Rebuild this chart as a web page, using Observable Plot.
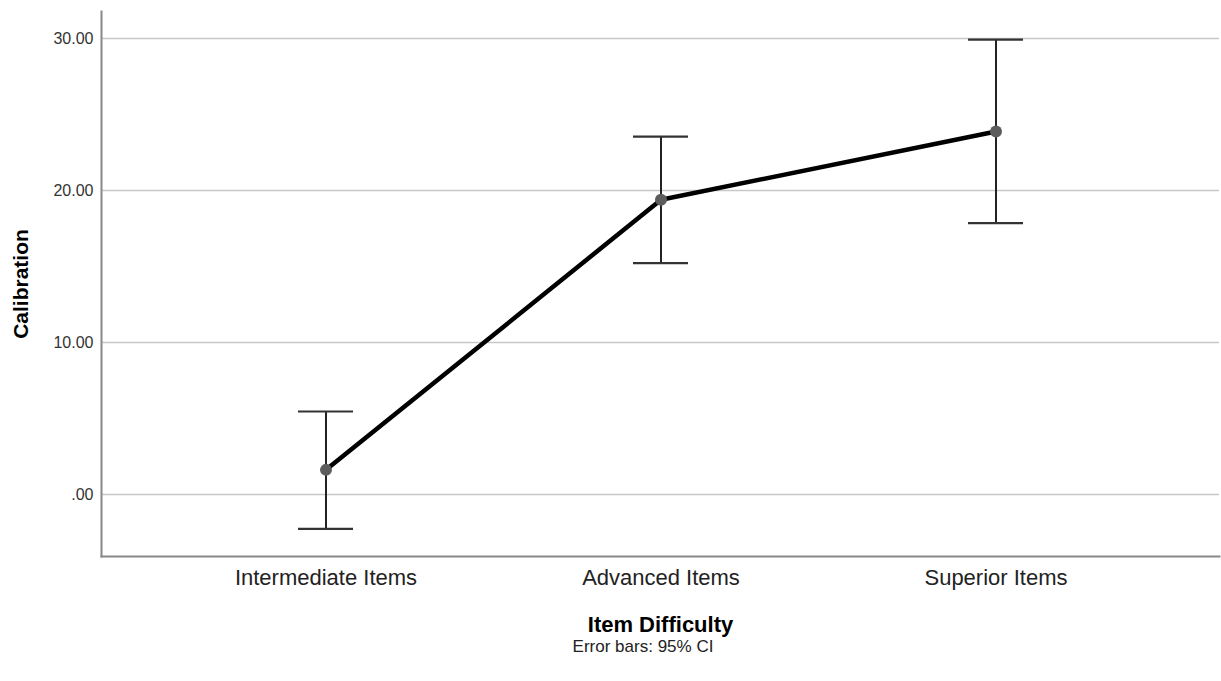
<!DOCTYPE html>
<html>
<head>
<meta charset="utf-8">
<script src="https://cdn.jsdelivr.net/npm/d3@7"></script>
<script src="https://cdn.jsdelivr.net/npm/@observablehq/plot@0.6"></script>
<style>
  html, body { margin: 0; padding: 0; background: #fff; }
  #wrap { position: relative; width: 1221px; height: 681px; font-family: "Liberation Sans", Arial, sans-serif; }
  #caption { position: absolute; left: 643px; top: 638px; transform: translateX(-50%); font-size: 17px; line-height: 17px; color: #222; white-space: nowrap; }
</style>
</head>
<body>
<div id="wrap"><div id="chart"></div><div id="caption">Error bars: 95% CI</div></div>
<script>
const categories = ["Intermediate Items", "Advanced Items", "Superior Items"];
const means = [1.62, 19.39, 23.88];
const lower = [-2.26, 15.22, 17.85];
const upper = [5.46, 23.55, 29.93];
const yTicks = [0, 10, 20, 30];
const xLabel = "Item Difficulty";
const yLabel = "Calibration";

const data = categories.map((c, i) => ({cat: c, mean: means[i], lo: lower[i], hi: upper[i]}));
const fmt = d => d === 0 ? ".00" : d.toFixed(2);

const plot = Plot.plot({
  width: 1221,
  height: 640,
  marginLeft: 101,
  marginRight: 2,
  marginTop: 11,
  marginBottom: 84,
  style: {fontFamily: "'Liberation Sans', Arial, sans-serif", background: "#fff"},
  x: {type: "band", domain: categories, paddingInner: 0.836, paddingOuter: 0.584},
  y: {domain: [-4.08, 31.78]},
  marks: [
    Plot.gridY(yTicks, {stroke: "#c8c8c8", strokeOpacity: 1, strokeWidth: 1.5}),
    Plot.frame({anchor: "left", stroke: "#888", strokeWidth: 2}),
    Plot.frame({anchor: "bottom", stroke: "#888", strokeWidth: 2}),
    Plot.axisY(yTicks, {tickSize: 0, tickPadding: 8, tickFormat: fmt, fontSize: 16, fill: "#333",
      label: yLabel, labelAnchor: "center", labelOffset: 88, labelArrow: "none"}),
    Plot.axisX({tickSize: 0, tickPadding: 13, fontSize: 22, fill: "#222",
      label: xLabel, labelAnchor: "center", labelOffset: 75, labelArrow: "none"}),
    Plot.ruleX(data, {x: "cat", y1: "lo", y2: "hi", stroke: "#222", strokeWidth: 2}),
    Plot.tickY(data, {x: "cat", y: "lo", stroke: "#333", strokeWidth: 2.2}),
    Plot.tickY(data, {x: "cat", y: "hi", stroke: "#333", strokeWidth: 2.2}),
    Plot.line(data, {x: "cat", y: "mean", stroke: "#000", strokeWidth: 4.5}),
    Plot.dot(data, {x: "cat", y: "mean", r: 6, fill: "#5c5c5c", stroke: "none"})
  ]
});
document.getElementById("chart").appendChild(plot);
// style axis labels: bold
plot.querySelectorAll("[aria-label='y-axis label'] text").forEach(t => {
  t.setAttribute("font-weight", "bold");
  t.setAttribute("font-size", "21");
  t.setAttribute("fill", "#000");
});
plot.querySelectorAll("[aria-label='x-axis label'] text").forEach(t => {
  t.setAttribute("font-weight", "bold");
  t.setAttribute("font-size", "22");
  t.setAttribute("fill", "#000");
});
</script>
</body>
</html>
